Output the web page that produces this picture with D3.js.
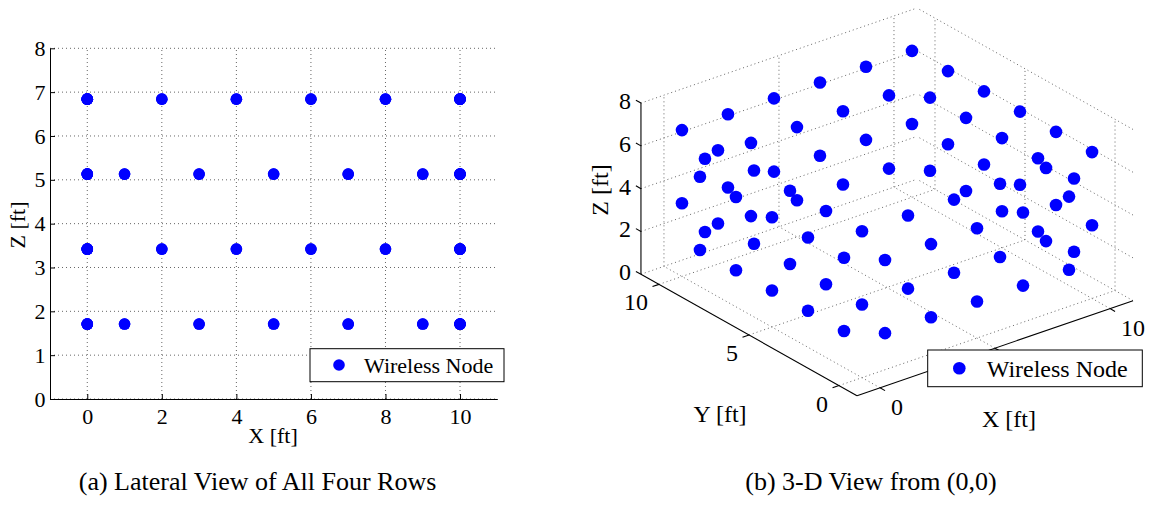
<!DOCTYPE html>
<html>
<head>
<meta charset="utf-8">
<script src="https://cdn.jsdelivr.net/npm/d3@7"></script>
<style>
  body { margin: 0; background: #fff; }
  svg { display: block; }
</style>
</head>
<body>
<div id="chart"></div>
<script>
// node heights (ft) for the four rows
const levelHeights = [1.71, 3.42, 5.13, 6.84];
// positions along each wall used at each height
const oddSlots = [1, 3, 5, 7, 9];
const evenSlots = [0, 2, 4, 6, 8, 10];
const levelSlots = [oddSlots, evenSlots, oddSlots, evenSlots];
// the walls the nodes are mounted on (x = 0, x = 10, y = 0, y = 10)
const wallSides = [0, 10];

// tick values
const xTicksA = [0, 2, 4, 6, 8, 10];
const zTicksA = [0, 1, 2, 3, 4, 5, 6, 7, 8];
const xTicksB = [0, 5, 10];
const xTickLabelsB = [0, 10]; // the "5" sits under the legend box
const yTicksB = [0, 5, 10];
const zTicksB = [0, 2, 4, 6, 8];

const legendLabel = "Wireless Node";
const captionA = "(a) Lateral View of All Four Rows";
const captionB = "(b) 3-D View from (0,0)";

const serif = "'Liberation Serif', 'Times New Roman', Times, serif";
const blue = "#0000ff";
const gridColor = "#666";

// build node table from the arrays above
const nodes = [];
const seen = new Set();
levelHeights.forEach((z, i) => {
    levelSlots[i].forEach(s => {
        wallSides.forEach(w => {
            [[w, s], [s, w]].forEach(([x, y]) => {
                const key = `${x}_${y}_${z}`;
                if (!seen.has(key)) { seen.add(key); nodes.push({x, y, z}); }
            });
        });
    });
});

const svg = d3.select("#chart").append("svg")
    .attr("width", 1156)
    .attr("height", 506)
    .attr("font-family", serif);

// ---------------- (a) lateral view ----------------
const a = {left: 50, right: 497.3, top: 48.3, bottom: 399};
const xA = d3.scaleLinear().domain([-1, 11]).range([a.left, a.right]);
const zA = d3.scaleLinear().domain([0, 8]).range([a.bottom, a.top]);
const gA = svg.append("g");

gA.selectAll(".vgrid").data(xTicksA).join("line")
    .attr("x1", d => xA(d)).attr("x2", d => xA(d))
    .attr("y1", a.bottom).attr("y2", a.top)
    .attr("stroke", gridColor).attr("stroke-dasharray", "1,3");

gA.selectAll(".hgrid").data(zTicksA).join("line")
    .attr("x1", a.left).attr("x2", a.right)
    .attr("y1", d => zA(d)).attr("y2", d => zA(d))
    .attr("stroke", gridColor).attr("stroke-dasharray", "1,3");

const xAxisA = gA.append("g")
    .attr("transform", `translate(0,${a.bottom})`)
    .call(d3.axisBottom(xA).tickValues(xTicksA).tickSizeInner(-5).tickSizeOuter(0).tickPadding(9));
const zAxisA = gA.append("g")
    .attr("transform", `translate(${a.left},0)`)
    .call(d3.axisLeft(zA).tickValues(zTicksA).tickSizeInner(-5).tickSizeOuter(0).tickPadding(4.5));
[xAxisA, zAxisA].forEach(ax => {
    ax.attr("font-family", serif).attr("font-size", 22);
    ax.selectAll("text").attr("fill", "#000");
    ax.selectAll("line, path").attr("stroke", "#000");
});

gA.selectAll(".node").data(nodes).join("circle")
    .attr("cx", d => xA(d.x))
    .attr("cy", d => zA(d.z))
    .attr("r", 5.8)
    .attr("fill", blue);

gA.append("text")
    .attr("x", 273).attr("y", 442.5)
    .attr("text-anchor", "middle").attr("font-size", 22)
    .text("X [ft]");
gA.append("text")
    .attr("transform", "translate(25,225) rotate(-90)")
    .attr("text-anchor", "middle").attr("font-size", 22)
    .text("Z [ft]");

// legend
gA.append("rect")
    .attr("x", 310).attr("y", 348.7).attr("width", 194).attr("height", 33)
    .attr("fill", "#fff").attr("stroke", "#000");
gA.append("circle").attr("cx", 339).attr("cy", 365).attr("r", 5.8).attr("fill", blue);
gA.append("text").attr("x", 364).attr("y", 372.5).attr("font-size", 22).text(legendLabel);

// ---------------- (b) 3-D view ----------------
const az = 38.05 * Math.PI / 180;
const el = 26.1 * Math.PI / 180;
const xB = d3.scaleLinear().domain([-1, 11]).range([0, 12 * 29.21]);
const yB = d3.scaleLinear().domain([-1, 11]).range([0, 12 * 29.21]);
const zB = d3.scaleLinear().domain([0, 8]).range([0, 8 * 21.4]);
const corner = [857, 395.7]; // screen position of (-1,-1,0)

function project(x, y, z) {
    const u = xB(x), v = yB(y), w = zB(z);
    return [
        corner[0] + u * Math.cos(az) - v * Math.sin(az),
        corner[1] - Math.sin(el) * (u * Math.sin(az) + v * Math.cos(az)) - w
    ];
}

const gB = svg.append("g");
const seg = (p, q) => ({p, q});
const gridSegs = [];
xTicksB.forEach(x => {
    gridSegs.push(seg([x, -1, 0], [x, 11, 0]));   // floor
    gridSegs.push(seg([x, 11, 0], [x, 11, 8]));   // back wall y = 11
});
yTicksB.forEach(y => {
    gridSegs.push(seg([-1, y, 0], [11, y, 0]));   // floor
    gridSegs.push(seg([11, y, 0], [11, y, 8]));   // back wall x = 11
});
zTicksB.forEach(z => {
    gridSegs.push(seg([-1, 11, z], [11, 11, z]));
    gridSegs.push(seg([11, -1, z], [11, 11, z]));
});

gB.selectAll(".grid3").data(gridSegs).join("line")
    .attr("x1", d => project(...d.p)[0]).attr("y1", d => project(...d.p)[1])
    .attr("x2", d => project(...d.q)[0]).attr("y2", d => project(...d.q)[1])
    .attr("stroke", gridColor).attr("stroke-dasharray", "1,3");

// axis lines
const axisSegs = [
    seg([-1, 11, 0], [-1, 11, 8]),  // Z
    seg([-1, -1, 0], [-1, 11, 0]),  // Y
    seg([-1, -1, 0], [11, -1, 0])   // X
];
gB.selectAll(".axis3").data(axisSegs).join("line")
    .attr("x1", d => project(...d.p)[0]).attr("y1", d => project(...d.p)[1])
    .attr("x2", d => project(...d.q)[0]).attr("y2", d => project(...d.q)[1])
    .attr("stroke", "#000").attr("stroke-width", 1.1);

// tick marks
const tickLen = 0.28;
const tickSegs = [
    ...zTicksB.map(z => seg([-1, 11, z], [-1, 11 + tickLen, z])),
    ...yTicksB.map(y => seg([-1, y, 0], [-1 - tickLen, y, 0])),
    ...xTicksB.map(x => seg([x, -1, 0], [x, -1 - tickLen, 0]))
];
gB.selectAll(".tick3").data(tickSegs).join("line")
    .attr("x1", d => project(...d.p)[0]).attr("y1", d => project(...d.p)[1])
    .attr("x2", d => project(...d.q)[0]).attr("y2", d => project(...d.q)[1])
    .attr("stroke", "#000").attr("stroke-width", 1.1);

// tick labels
gB.selectAll(".zlab").data(zTicksB).join("text")
    .attr("x", d => project(-1, 11, d)[0] - 10)
    .attr("y", d => project(-1, 11, d)[1] + 6)
    .attr("text-anchor", "end").attr("font-size", 24)
    .text(d => d);
gB.selectAll(".ylab").data(yTicksB).join("text")
    .attr("x", d => project(-1, d, 0)[0] - 11)
    .attr("y", d => project(-1, d, 0)[1] + 26)
    .attr("text-anchor", "end").attr("font-size", 24)
    .text(d => d);
gB.selectAll(".xlab").data(xTickLabelsB).join("text")
    .attr("x", d => project(d, -1, 0)[0] + 11)
    .attr("y", d => project(d, -1, 0)[1] + 27.5)
    .attr("text-anchor", "start").attr("font-size", 24)
    .text(d => d);

gB.append("text")
    .attr("transform", "translate(608,190) rotate(-90)")
    .attr("text-anchor", "middle").attr("font-size", 24)
    .text("Z [ft]");
gB.append("text")
    .attr("x", 720).attr("y", 421.5)
    .attr("text-anchor", "middle").attr("font-size", 24)
    .text("Y [ft]");
gB.append("text")
    .attr("x", 1009).attr("y", 426.5)
    .attr("text-anchor", "middle").attr("font-size", 24)
    .text("X [ft]");

// nodes, far ones first
const depth = d => Math.cos(el) * (d.x * Math.sin(az) + d.y * Math.cos(az)) - Math.sin(el) * d.z;
const nodesB = nodes.slice().sort((p, q) => depth(q) - depth(p));
gB.selectAll(".node3").data(nodesB).join("circle")
    .attr("cx", d => project(d.x, d.y, d.z)[0])
    .attr("cy", d => project(d.x, d.y, d.z)[1])
    .attr("r", 6.3)
    .attr("fill", blue);

// legend
gB.append("rect")
    .attr("x", 927.7).attr("y", 350).attr("width", 214.6).attr("height", 36.7)
    .attr("fill", "#fff").attr("stroke", "#000");
gB.append("circle").attr("cx", 959.3).attr("cy", 368.3).attr("r", 6.3).attr("fill", blue);
gB.append("text").attr("x", 986.7).attr("y", 376.5).attr("font-size", 24).text(legendLabel);

// captions
svg.append("text").attr("x", 257.5).attr("y", 490)
    .attr("text-anchor", "middle").attr("font-size", 26).text(captionA);
svg.append("text").attr("x", 871).attr("y", 490)
    .attr("text-anchor", "middle").attr("font-size", 26).text(captionB);
</script>
</body>
</html>
